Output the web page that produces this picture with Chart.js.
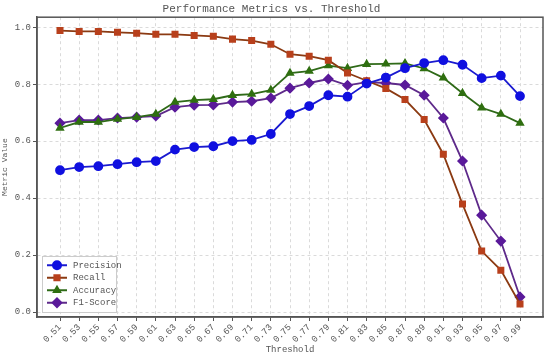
<!DOCTYPE html>
<html>
<head>
<meta charset="utf-8">
<script src="https://cdn.jsdelivr.net/npm/chart.js@4/dist/chart.umd.min.js"></script>
<style>
  html, body { margin: 0; padding: 0; background: #fff; }
  #box { width: 550px; height: 356px; }
</style>
</head>
<body>
<div id="box"><canvas id="grafico"></canvas></div>
<script>
// Limiares e métricas
const thresholds = [0.51, 0.53, 0.55, 0.57, 0.59, 0.61, 0.63, 0.65, 0.67, 0.69, 0.71, 0.73,
  0.75, 0.77, 0.79, 0.81, 0.83, 0.85, 0.87, 0.89, 0.91, 0.93, 0.95, 0.97, 0.99];
const precision = [0.498, 0.509, 0.512, 0.519, 0.526, 0.530, 0.570, 0.579, 0.582, 0.600, 0.604, 0.625,
  0.695, 0.723, 0.761, 0.756, 0.802, 0.823, 0.856, 0.874, 0.884, 0.868, 0.821, 0.830, 0.758];
const recall = [0.988, 0.985, 0.985, 0.982, 0.979, 0.975, 0.975, 0.971, 0.968, 0.958, 0.953, 0.940,
  0.905, 0.898, 0.884, 0.839, 0.812, 0.785, 0.746, 0.676, 0.554, 0.379, 0.214, 0.147, 0.028];
const accuracy = [0.646, 0.667, 0.667, 0.677, 0.684, 0.695, 0.737, 0.744, 0.747, 0.761, 0.765, 0.779,
  0.839, 0.846, 0.865, 0.856, 0.870, 0.871, 0.873, 0.855, 0.822, 0.768, 0.717, 0.695, 0.663];
const f1score = [0.663, 0.674, 0.674, 0.681, 0.684, 0.688, 0.719, 0.726, 0.727, 0.737, 0.740, 0.751,
  0.786, 0.804, 0.818, 0.796, 0.807, 0.804, 0.797, 0.761, 0.681, 0.530, 0.340, 0.249, 0.053];
const yTicks = [0.0, 0.2, 0.4, 0.6, 0.8, 1.0];

const fonte = '"Liberation Mono", "DejaVu Sans Mono", monospace';
const corTexto = '#555';

function pontos(valores) {
  return thresholds.map((t, i) => ({ x: t, y: valores[i] }));
}

const series = [
  { label: 'Precision', data: precision, cor: '#1010e0', linha: '#1a1ad0', estilo: 'circle', raio: 4 },
  { label: 'Recall', data: recall, cor: '#b8401c', linha: '#8b3a12', estilo: 'rect', raio: 3.7 },
  { label: 'Accuracy', data: accuracy, cor: '#2f6f10', linha: '#2f6a18', estilo: 'triangle', raio: 3.6 },
  { label: 'F1-Score', data: f1score, cor: '#5a1a9a', linha: '#5e2a8a', estilo: 'rectRot', raio: 4.3 }
];

// Moldura e legenda no estilo do original
const molduraLegenda = {
  id: 'molduraLegenda',
  afterDraw(chart) {
    const ctx = chart.ctx;
    const a = chart.chartArea;
    ctx.save();
    ctx.strokeStyle = '#555';
    ctx.lineWidth = 1.5;
    ctx.strokeRect(a.left, a.top, a.right - a.left, a.bottom - a.top);

    // legenda
    const x0 = a.left + 5, altLinha = 12.5;
    const h = series.length * altLinha + 6;
    const y0 = a.bottom - 5 - h;
    const w = 74;
    ctx.fillStyle = 'rgba(255,255,255,0.85)';
    ctx.strokeStyle = '#ccc';
    ctx.lineWidth = 1;
    ctx.fillRect(x0, y0, w, h);
    ctx.strokeRect(x0 + 0.5, y0 + 0.5, w, h);
    ctx.font = '9px ' + fonte;
    ctx.textBaseline = 'middle';
    series.forEach((s, i) => {
      const yy = y0 + 3 + altLinha * (i + 0.5);
      ctx.strokeStyle = s.linha;
      ctx.lineWidth = 2;
      ctx.beginPath();
      ctx.moveTo(x0 + 5, yy);
      ctx.lineTo(x0 + 25, yy);
      ctx.stroke();
      ctx.fillStyle = s.cor;
      ctx.strokeStyle = s.cor;
      Chart.helpers.drawPoint(ctx, { pointStyle: s.estilo, radius: s.raio, borderWidth: 1 }, x0 + 15, yy);
      ctx.fillStyle = corTexto;
      ctx.fillText(s.label, x0 + 31, yy);
    });
    ctx.restore();
  }
};

const ctx = document.getElementById('grafico').getContext('2d');
window.meuGrafico = new Chart(ctx, {
  type: 'line',
  data: {
    datasets: series.map(s => ({
      label: s.label,
      data: pontos(s.data),
      borderColor: s.linha,
      backgroundColor: s.cor,
      pointBackgroundColor: s.cor,
      pointBorderColor: s.cor,
      pointStyle: s.estilo,
      pointRadius: s.raio,
      borderWidth: 1.8,
      tension: 0
    }))
  },
  options: {
    responsive: true,
    maintainAspectRatio: false,
    animation: false,
    layout: { padding: { top: 0, right: 7, bottom: 0, left: 0 } },
    plugins: {
      legend: { display: false },
      tooltip: { enabled: false },
      title: {
        display: true,
        text: 'Performance Metrics vs. Threshold',
        color: corTexto,
        font: { family: fonte, size: 11, weight: 'normal' },
        padding: { top: 2, bottom: 2 }
      }
    },
    scales: {
      x: {
        type: 'linear',
        min: 0.486,
        max: 1.014,
        afterBuildTicks: scale => { scale.ticks = thresholds.map(v => ({ value: v })); },
        afterFit: scale => { scale.height = 39; },
        ticks: {
          minRotation: 45,
          maxRotation: 45,
          color: corTexto,
          font: { family: fonte, size: 9 },
          padding: 1,
          callback: v => v.toFixed(2)
        },
        grid: { color: '#dadada', tickColor: '#555', tickLength: 4, tickBorderDash: [] },
        border: { color: '#555', width: 1.5, dash: [3, 3] },
        title: {
          display: true,
          text: 'Threshold',
          color: corTexto,
          font: { family: fonte, size: 9 },
          padding: { top: 0, bottom: 1 }
        }
      },
      y: {
        min: -0.0175,
        max: 1.035,
        afterBuildTicks: scale => { scale.ticks = yTicks.map(v => ({ value: v })); },
        afterFit: scale => { scale.width = 37; },
        ticks: {
          color: corTexto,
          font: { family: fonte, size: 9 },
          padding: 2,
          callback: v => v.toFixed(1)
        },
        grid: { color: '#dadada', tickColor: '#555', tickLength: 4, tickBorderDash: [] },
        border: { color: '#555', width: 1.5, dash: [3, 3] },
        title: {
          display: true,
          text: 'Metric Value',
          color: corTexto,
          font: { family: fonte, size: 8 },
          padding: { top: 0, bottom: 0 }
        }
      }
    }
  },
  plugins: [molduraLegenda]
});
</script>
</body>
</html>
